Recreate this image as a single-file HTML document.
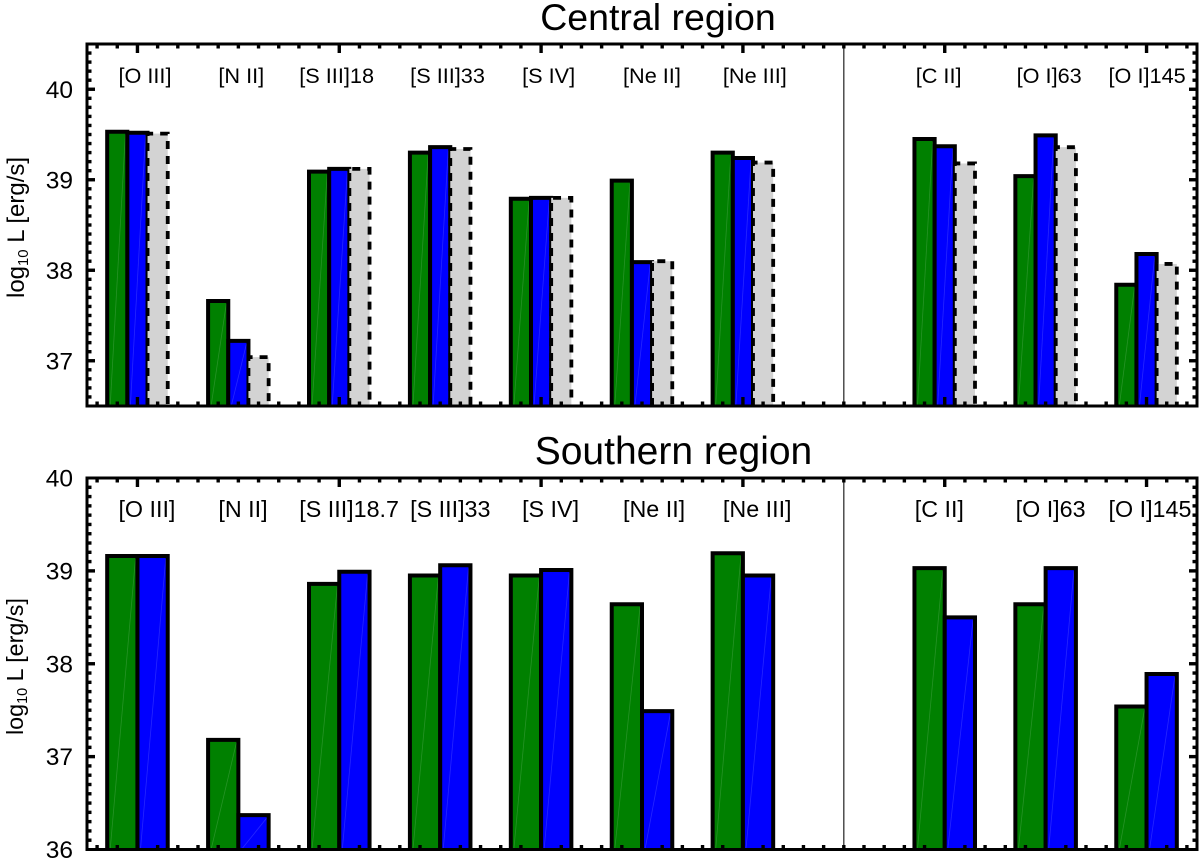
<!DOCTYPE html>
<html lang="en">
<head>
<meta charset="utf-8">
<title>Central and Southern region line luminosities</title>
<style>
html,body{margin:0;padding:0;background:#fff;}
svg{display:block;}
text{font-family:"Liberation Sans",sans-serif;fill:#000;}
</style>
</head>
<body>
<svg id="chart" xmlns="http://www.w3.org/2000/svg" width="1200" height="859" viewBox="0 0 1200 859"></svg>
<script>
// ---- data ----
const categoriesTop = ["[O III]","[N II]","[S III]18","[S III]33","[S IV]","[Ne II]","[Ne III]","[C II]","[O I]63","[O I]145"];
const categoriesBottom = ["[O III]","[N II]","[S III]18.7","[S III]33","[S IV]","[Ne II]","[Ne III]","[C II]","[O I]63","[O I]145"];
const slots = [0,1,2,3,4,5,6,8,9,10];
const dividerSlot = 7;
const topGreen = [39.53,37.66,39.09,39.30,38.79,38.99,39.30,39.45,39.04,37.84];
const topBlue = [39.52,37.22,39.12,39.36,38.80,38.09,39.24,39.37,39.49,38.18];
const topGray = [39.51,37.04,39.12,39.34,38.80,38.10,39.19,39.18,39.36,38.07];
const bottomGreen = [39.16,37.18,38.86,38.95,38.95,38.64,39.19,39.03,38.64,37.54];
const bottomBlue = [39.16,36.37,38.99,39.06,39.01,37.49,38.95,38.50,39.03,37.89];
const topTickLabels = [37,38,39,40];
const bottomTickLabels = [36,37,38,39,40];

// ---- layout helpers (label starts hand-placed in the original, relative to the slot) ----
const labelShiftTop = [-19,-20,-40,-30,-19,-19,-20,-29,-29,-38];
const labelShiftBottom = [-19,-20,-40,-30,-19,-19,-20,-30,-30,-38];
const SVGNS = "http://www.w3.org/2000/svg";
const root = document.getElementById("chart");
function make(parent, tag, attrs, text){
  const el = document.createElementNS(SVGNS, tag);
  for (const k in attrs) el.setAttribute(k, attrs[k]);
  if (text !== undefined) el.textContent = text;
  parent.appendChild(el);
  return el;
}
const xMin = -0.5, xMax = 10.5, xLeft = 87, xRight = 1197;
function xScale(v){ return xLeft + (v - xMin) / (xMax - xMin) * (xRight - xLeft); }
function yScaleFactory(d0, d1, py0, py1){
  return function(v){ return py0 + (v - d0) / (d1 - d0) * (py1 - py0); };
}

function drawBar(g, slot, from, to, value, fill, yScale, yBase, dashed, name){
  const x0 = xScale(slot + from), x1 = xScale(slot + to), yT = yScale(value);
  const bar = make(g, "g", {});
  
  
  make(bar, "rect", {x:x0, y:yT, width:x1-x0, height:yBase-yT, fill:fill});
  if (!dashed) {
    make(bar, "line", {x1:x0+3, y1:yBase, x2:x1-2, y2:yT+3, stroke:"#fff", "stroke-opacity":0.15, "stroke-width":0.8});
  }
  make(bar, "path", {
    d:"M"+x0+" "+yBase+"V"+yT+"H"+x1+"V"+yBase,
    fill:"none", stroke:"#000", "stroke-width":dashed?3.8:4,
    "stroke-dasharray":dashed?"8 7":"none"
  });
}

function drawPanel(cfg){
  const g = make(root, "g", {});
  
  
  const y = yScaleFactory(cfg.dMin, cfg.dMax, cfg.bottom, cfg.top);

  // title
  const title = make(g, "text", {x:cfg.titleX, y:cfg.titleY, "font-size":cfg.titleSize, "text-anchor":"middle"}, cfg.title);
  
  

  // bars
  const seriesCount = cfg.series.length;
  const w = 0.6 / seriesCount;
  cfg.series.forEach(function(s, si){
    s.values.forEach(function(val, i){
      const slot = slots[i];
      drawBar(g, slot, -0.3 + si*w, -0.3 + (si+1)*w, val, s.fill, y, cfg.bottom, s.dashed, "bar-" + s.key + "-" + (i+1));
    });
  });

  // divider
  const div = make(g, "line", {x1:xScale(dividerSlot), x2:xScale(dividerSlot), y1:cfg.top, y2:cfg.bottom, stroke:"#222", "stroke-width":1.2});
  
  

  // x ticks (every 0.2 slot, major every 2 slots)
  const xt = make(g, "g", {stroke:"#000", "stroke-width":3.4});
  
  
  for (let n = 0; n <= 55; n++){
    const q = Math.round(n*0.2*100)/100 - 0.4;
    if (q <= xMin || q >= xMax) continue;
    const major = Math.abs(q/2 - Math.round(q/2)) < 0.001;
    const px = xScale(q);
    make(xt, "line", {x1:px, x2:px, y1:cfg.top, y2:cfg.top + (major?cfg.xMajor:cfg.xMinor)});
    make(xt, "line", {x1:px, x2:px, y1:cfg.bottom, y2:cfg.bottom - (major?cfg.xMajor:cfg.xMinor)});
  }

  // y ticks
  const yt = make(g, "g", {stroke:"#000", "stroke-width":3.4});
  
  
  const nTicks = Math.round((cfg.dMax - cfg.dMin) * 10);
  for (let n = 1; n < nTicks; n++){
    const v = cfg.dMin + n/10;
    const major = Math.abs(v - Math.round(v)) < 0.001;
    const py = y(v);
    make(yt, "line", {x1:xLeft, x2:xLeft + (major?8:4.5), y1:py, y2:py});
    make(yt, "line", {x1:xRight, x2:xRight - (major?8:4.5), y1:py, y2:py});
  }

  // frame
  const frame = make(g, "rect", {x:xLeft, y:cfg.top, width:xRight-xLeft, height:cfg.bottom-cfg.top, fill:"none", stroke:"#000", "stroke-width":3});
  
  

  // y tick labels
  cfg.ticks.forEach(function(t){
    const lab = make(g, "text", {x:73, y:y(t)+cfg.tickDy, "font-size":24.5, "text-anchor":"end"}, String(t));
    
    
  });

  // category labels
  cfg.categories.forEach(function(c, i){
    const lab = make(g, "text", {x:xScale(slots[i]) + cfg.labelShift[i], y:cfg.labelY, "font-size":cfg.labelSize}, c);
    
    
  });

  // y axis title
  const yTitle = make(g, "text", {transform:"translate("+cfg.yTitleX+" "+cfg.yTitleY+") rotate(-90)", "font-size":cfg.yTitleSize});
  
  
  make(yTitle, "tspan", {}, "log");
  make(yTitle, "tspan", {dy:4, "font-size":cfg.yTitleSize*0.62}, "10");
  make(yTitle, "tspan", {dy:-4}, " L  [erg/s]");
}

drawPanel({
  name:"central-region-panel", title:"Central region", titleX:658, titleY:30, titleSize:37.5,
  top:44, bottom:406, dMin:36.5, dMax:40.5,
  series:[{key:"green",values:topGreen,fill:"#008000"},{key:"blue",values:topBlue,fill:"#0000ff"},{key:"gray",values:topGray,fill:"#d3d3d3",dashed:true}],
  ticks:topTickLabels, tickDy:8.5, categories:categoriesTop, labelShift:labelShiftTop, labelY:83, labelSize:21.7,
  xMajor:9, xMinor:4.5, yTitleX:24, yTitleY:298, yTitleSize:24
});
drawPanel({
  name:"southern-region-panel", title:"Southern region", titleX:673.5, titleY:464, titleSize:39,
  top:478, bottom:849.5, dMin:36, dMax:40,
  series:[{key:"green",values:bottomGreen,fill:"#008000"},{key:"blue",values:bottomBlue,fill:"#0000ff"}],
  ticks:bottomTickLabels, tickDy:8.5, categories:categoriesBottom, labelShift:labelShiftBottom, labelY:517, labelSize:23.3,
  xMajor:9, xMinor:4.5, yTitleX:23, yTitleY:735, yTitleSize:23.3
});
</script>
</body>
</html>
